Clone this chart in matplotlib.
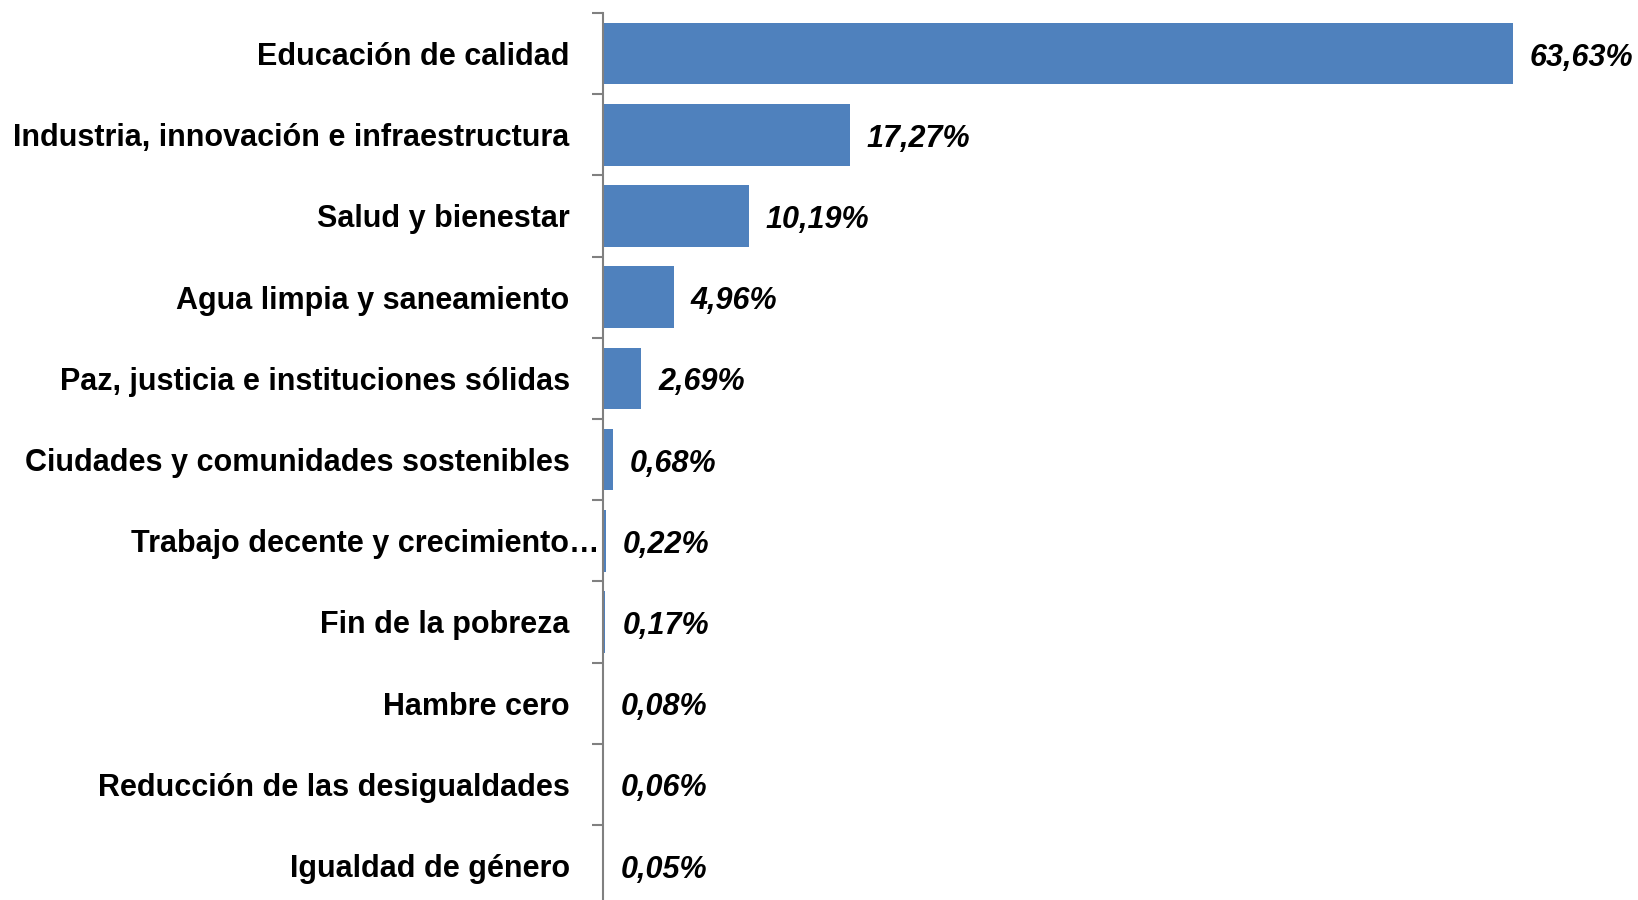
import matplotlib.pyplot as plt
import matplotlib.transforms as mtransforms
from matplotlib import font_manager

# Data
categories = [
    "Educación de calidad",
    "Industria, innovación e infraestructura",
    "Salud y bienestar",
    "Agua limpia y saneamiento",
    "Paz, justicia e instituciones sólidas",
    "Ciudades y comunidades sostenibles",
    "Trabajo decente y crecimiento…",
    "Fin de la pobreza",
    "Hambre cero",
    "Reducción de las desigualdades",
    "Igualdad de género",
]
values = [63.63, 17.27, 10.19, 4.96, 2.69, 0.68, 0.22, 0.17, 0.08, 0.06, 0.05]
value_labels = ["63,63%", "17,27%", "10,19%", "4,96%", "2,69%", "0,68%",
                "0,22%", "0,17%", "0,08%", "0,06%", "0,05%"]

names = {f.name for f in font_manager.fontManager.ttflist}
narrow = "Liberation Sans Narrow" in names
family = "Liberation Sans Narrow" if narrow else "Liberation Sans"
fs = 25 if narrow else 22
plt.rcParams["font.family"] = [family, "DejaVu Sans"]

fig = plt.figure(figsize=(16.38, 9.0), dpi=100)
W, H = 1638, 900
ax_left, ax_top, cat_px = 603, 13, 81.2
ax_h = cat_px * len(categories)
ax = fig.add_axes([ax_left / W, 1 - (ax_top + ax_h) / H, (W - ax_left) / W, ax_h / H])

ypos = list(range(len(categories)))
ax.barh(ypos, values, height=0.76, color="#4F81BD", edgecolor="none")
ax.set_ylim(len(categories) - 0.5, -0.5)
ax.set_xlim(0, (W - ax_left) / 14.3)

for y, v, lab in zip(ypos, values, value_labels):
    ax.annotate(lab, (v, y), xytext=(17, -4), textcoords="offset pixels",
                va="center", ha="left", fontsize=fs, fontweight="bold",
                fontstyle="italic", color="black")

for s in ["top", "right", "bottom"]:
    ax.spines[s].set_visible(False)
ax.spines["left"].set_color("#808080")
ax.spines["left"].set_linewidth(1.5)
ax.set_xticks([])

# ticks at category boundaries, labels in the middle
ax.set_yticks([i - 0.5 for i in range(len(categories))])
ax.set_yticklabels([])
ax.tick_params(axis="y", which="major", direction="out", length=8,
               width=1.5, color="#808080")
ax.set_yticks(ypos, minor=True)
ax.set_yticklabels(categories, minor=True, fontsize=fs, fontweight="bold")
ax.tick_params(axis="y", which="minor", length=0, pad=24)

# truncated label sits closer to the axis
lbl = ax.get_yticklabels(minor=True)[6]
lbl.set_transform(lbl.get_transform() + mtransforms.ScaledTranslation(30 / 100, 0, fig.dpi_scale_trans))

fig.savefig("out.png", dpi=100)
